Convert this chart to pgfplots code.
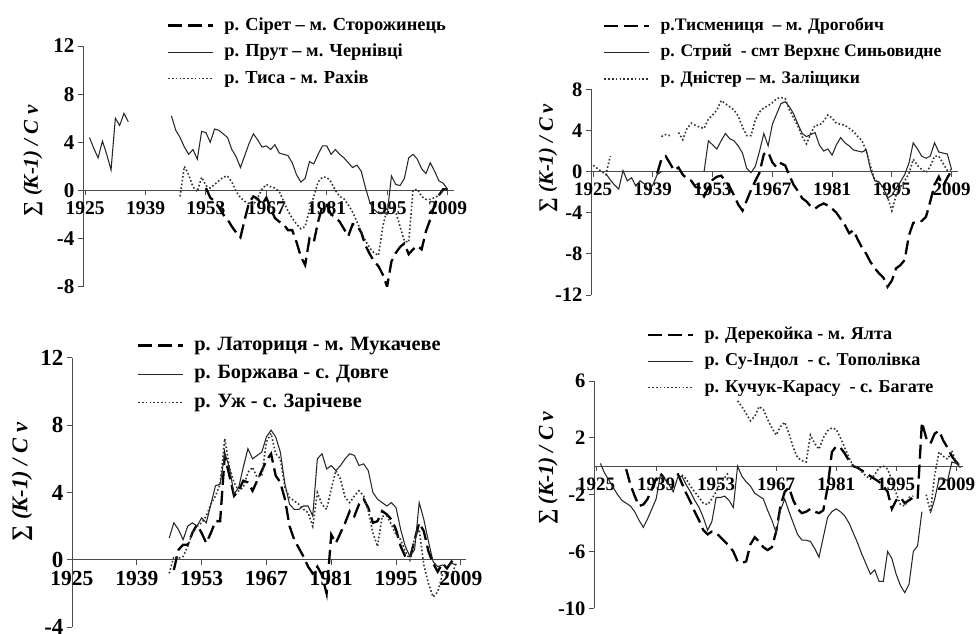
\documentclass[border=0pt]{standalone}
\usepackage{fontspec}
\setmainfont{Liberation Serif}
\usepackage{pgfplots}
\pgfplotsset{compat=1.18}
\pgfplotsset{
  legend image code/.code={\draw[#1] (0pt,0pt) -- (45pt,0pt);},
  panel/.style={
    scale only axis,
    anchor=south west,
    axis x line=middle, axis y line=left,
    axis line style={-, draw=black!70, line width=0.9pt},
    tick style={draw=black!70, line width=0.9pt},
    tick align=outside,
    major tick length=5pt,
    hide obscured x ticks=false,
    xtick={1925,1939,1953,1967,1981,1995,2009},
    xticklabels={1925,1939,1953,1967,1981,1995,2009},
    unbounded coords=jump,
    legend cell align=left,
    legend style={draw=none, fill=none, inner sep=0pt, anchor=north west,
      row sep=9.5pt,
      nodes={inner sep=0pt, text height=13pt, text depth=4pt},
      /tikz/every odd column/.append style={column sep=10pt}},
  },
  fnt/.style n args={4}{
    xticklabel style={font=\fontsize{#1}{#1}\selectfont\bfseries, yshift=-3pt},
    yticklabel style={font=\fontsize{#2}{#2}\selectfont\bfseries},
    legend style={font=\fontsize{#3}{#3}\selectfont\bfseries},
    every axis y label/.append style={font=\fontsize{#4}{#4}\selectfont\bfseries}},
  ylab/.style 2 args={every axis y label/.style={at={(axis description cs:#1,#2)}, rotate=90, anchor=center},
    ylabel={∑ \textit{(K-1) / C v}}},
  dsh/.style={black, line width=2.3pt, dash pattern=on 14pt off 6pt},
  sol/.style={black!85, line width=1.05pt},
  dtt/.style={black!80, line width=1.6pt, dash pattern=on 1.6pt off 2.2pt},
}
\begin{document}
\begin{tikzpicture}
\useasboundingbox (0,0) rectangle (977pt,633pt);
% ---------------- panel 1
\begin{axis}[panel, at={(83pt,346.3pt)}, width=371pt, height=240.7pt,
  xmin=1924.5, xmax=2010.5, ymin=-8, ymax=12, ytick={-8,-4,0,4,8,12},
  yticklabels={-8,-4,0,4,8,12}, ylab={-0.135}{0.523}, fnt={19.5}{21}{18.4}{21},
  legend style={at={(axis description cs:0.226,1.121)}}]
\addplot[dsh] coordinates {(1953,0.2)(1954,-0.6)(1955,-0.9)(1956,-1.4)(1957,-2.0)(1958,-2.4)(1959,-3.0)(1960,-3.5)(1961,-3.9)(1962,-2.4)(1963,-1.0)(1964,-0.5)(1965,-0.7)(1966,-1.2)(1967,-0.6)(1968,-1.5)(1969,-2.3)(1970,-2.6)(1971,-2.8)(1972,-3.3)(1973,-3.3)(1974,-4.3)(1975,-5.5)(1976,-6.2)(1977,-4.0)(1978,-4.3)(1979,-2.6)(1980,-1.3)(1981,-1.2)(1982,-2.0)(1983,-2.2)(1984,-2.6)(1985,-3.2)(1986,-3.8)(1987,-2.8)(1988,-2.9)(1989,-3.5)(1990,-4.6)(1991,-5.3)(1992,-5.9)(1993,-6.3)(1994,-7.0)(1995,-8.0)(1996,-5.9)(1997,-5.2)(1998,-4.7)(1999,-4.4)(2000,-5.3)(2001,-4.9)(2002,-4.6)(2003,-4.9)(2004,-3.4)(2005,-2.4)(2006,-1.2)(2007,-0.4)(2008,0.1)(2009,0.1)};
\addlegendentry{р. Сірет – м. Сторожинець}
\addplot[sol] coordinates {(1926,4.4)(1927,3.5)(1928,2.7)(1929,4.1)(1930,3.0)(1931,1.7)(1932,6.0)(1933,5.4)(1934,6.4)(1935,5.7)(1936,nan)(1945,6.2)(1946,5.0)(1947,4.4)(1948,3.6)(1949,3.0)(1950,3.4)(1951,2.6)(1952,4.9)(1953,4.8)(1954,4.0)(1955,5.1)(1956,5.0)(1957,4.7)(1958,4.4)(1959,3.4)(1960,2.8)(1961,1.9)(1962,2.9)(1963,3.9)(1964,4.7)(1965,4.2)(1966,3.6)(1967,3.7)(1968,3.4)(1969,3.8)(1970,3.1)(1971,3.0)(1972,2.9)(1973,2.3)(1974,1.3)(1975,0.7)(1976,1.0)(1977,2.4)(1978,2.2)(1979,3.0)(1980,3.7)(1981,3.7)(1982,3.0)(1983,3.4)(1984,3.0)(1985,2.7)(1986,2.3)(1987,1.9)(1988,2.1)(1989,1.6)(1990,0.2)(1991,-1.0)(1992,-1.6)(1993,-1.9)(1994,-1.8)(1995,-2.0)(1996,1.2)(1997,0.5)(1998,0.4)(1999,1.0)(2000,2.7)(2001,3.0)(2002,2.6)(2003,1.8)(2004,1.4)(2005,2.3)(2006,1.6)(2007,0.8)(2008,0.6)(2009,0.1)};
\addlegendentry{р. Прут – м. Чернівці}
\addplot[dtt] coordinates {(1947,-0.5)(1948,2.0)(1949,1.3)(1950,0.3)(1951,-0.1)(1952,1.1)(1953,0.4)(1954,0.2)(1955,0.5)(1956,0.8)(1957,1.1)(1958,1.2)(1959,0.7)(1960,-0.1)(1961,-0.6)(1962,-0.9)(1963,-1.1)(1964,-1.2)(1965,-0.6)(1966,0.1)(1967,0.5)(1968,0.3)(1969,0.2)(1970,-0.1)(1971,-0.9)(1972,-1.7)(1973,-2.3)(1974,-2.8)(1975,-3.2)(1976,-3.0)(1977,-1.6)(1978,-0.5)(1979,0.7)(1980,1.1)(1981,1.1)(1982,0.7)(1983,0.0)(1984,-0.5)(1985,-0.7)(1986,-1.2)(1987,-1.8)(1988,-2.6)(1989,-3.4)(1990,-4.2)(1991,-4.8)(1992,-5.2)(1993,-5.4)(1994,-3.0)(1995,-1.5)(1996,-1.3)(1997,-1.8)(1998,-3.0)(1999,-4.2)(2000,-4.3)(2001,0.0)(2002,0.1)(2003,-0.5)(2004,-0.75)(2005,-0.75)(2006,-0.6)(2007,-0.4)(2008,0.0)(2009,0.1)};
\addlegendentry{р. Тиса - м. Рахів}
\end{axis}
% ---------------- panel 2
\begin{axis}[panel, at={(591pt,338pt)}, width=367pt, height=205.7pt,
  xmin=1924.5, xmax=2010.5, ymin=-12, ymax=8, ytick={-12,-8,-4,0,4,8},
  yticklabels={-12,-8,-4,0,4,8}, ylab={-0.117}{0.666}, fnt={19}{20.5}{17.6}{20.5},
  legend style={at={(axis description cs:0.033,1.351)}}]
\addplot[dsh] coordinates {(1940,-0.2)(1941,1.2)(1942,1.5)(1943,0.8)(1944,0.1)(1945,0.4)(1946,-0.3)(1947,-0.7)(1948,-0.9)(1949,-1.5)(1950,-1.6)(1951,-2.4)(1952,-1.6)(1953,-0.8)(1954,-0.5)(1955,-0.4)(1956,-0.9)(1957,-1.5)(1958,-2.3)(1959,-3.2)(1960,-3.8)(1961,-2.8)(1962,-1.8)(1963,-0.9)(1964,-0.1)(1965,1.7)(1966,1.9)(1967,0.9)(1968,0.4)(1969,0.8)(1970,0.6)(1971,-0.4)(1972,-1.3)(1973,-1.9)(1974,-2.6)(1975,-2.9)(1976,-3.4)(1977,-3.6)(1978,-3.3)(1979,-3.1)(1980,-3.3)(1981,-3.6)(1982,-4.0)(1983,-4.6)(1984,-5.2)(1985,-6.0)(1986,-5.7)(1987,-6.6)(1988,-7.4)(1989,-8.0)(1990,-8.8)(1991,-9.4)(1992,-9.9)(1993,-10.3)(1994,-11.2)(1995,-10.6)(1996,-9.4)(1997,-9.1)(1998,-8.6)(1999,-6.2)(2000,-5.0)(2001,-4.8)(2002,-4.8)(2003,-4.4)(2004,-2.9)(2005,-1.3)(2006,-0.5)(2007,-1.4)(2008,-0.6)(2009,0.1)};
\addlegendentry{р.Тисмениця \ – м. Дрогобич}
\addplot[sol] coordinates {(1928,-0.2)(1929,-0.8)(1930,-1.3)(1931,-1.7)(1932,0.1)(1933,-0.9)(1934,-0.6)(1935,-1.4)(1936,-0.9)(1937,-1.2)(1938,-1.8)(1939,-1.3)(1940,-0.3)(1941,0.0)(1942,nan)(1951,0.0)(1952,3.0)(1953,2.6)(1954,2.2)(1955,3.0)(1956,3.7)(1957,3.2)(1958,3.0)(1959,2.5)(1960,1.8)(1961,0.3)(1962,-0.1)(1963,0.5)(1964,2.0)(1965,3.7)(1966,2.5)(1967,4.6)(1968,5.6)(1969,6.6)(1970,6.8)(1971,6.3)(1972,5.6)(1973,4.6)(1974,3.7)(1975,3.4)(1976,3.6)(1977,3.8)(1978,2.6)(1979,2.0)(1980,2.2)(1981,1.6)(1982,2.6)(1983,3.3)(1984,2.8)(1985,2.5)(1986,2.1)(1987,2.0)(1988,1.9)(1989,2.1)(1990,0.2)(1991,-0.9)(1992,-1.0)(1993,-1.6)(1994,-2.6)(1995,-2.3)(1996,-1.6)(1997,-1.0)(1998,-0.3)(1999,0.8)(2000,2.8)(2001,2.2)(2002,1.5)(2003,1.3)(2004,1.5)(2005,2.8)(2006,1.9)(2007,1.8)(2008,1.7)(2009,0.2)};
\addlegendentry{р. Стрий \ - смт Верхнє Синьовидне}
\addplot[dtt] coordinates {(1925,0.6)(1926,0.3)(1927,0.0)(1928,-0.3)(1929,1.5)(1930,nan)(1941,3.4)(1942,3.6)(1943,3.5)(1944,nan)(1945,3.8)(1946,3.1)(1947,4.2)(1948,4.7)(1949,4.5)(1950,4.3)(1951,4.2)(1952,5.1)(1953,5.5)(1954,6.0)(1955,6.9)(1956,6.6)(1957,6.3)(1958,6.0)(1959,5.4)(1960,4.3)(1961,3.5)(1962,3.5)(1963,5.0)(1964,5.8)(1965,6.2)(1966,6.4)(1967,6.7)(1968,7.1)(1969,7.2)(1970,7.1)(1971,6.0)(1972,5.2)(1973,4.4)(1974,3.4)(1975,2.7)(1976,3.7)(1977,4.5)(1978,4.5)(1979,4.9)(1980,5.5)(1981,5.2)(1982,4.7)(1983,4.6)(1984,4.5)(1985,4.2)(1986,3.9)(1987,3.4)(1988,3.0)(1989,2.0)(1990,0.5)(1991,-0.8)(1992,-1.1)(1993,-1.6)(1994,-2.5)(1995,-3.8)(1996,-2.3)(1997,-1.5)(1998,-0.9)(1999,-0.2)(2000,1.2)(2001,0.6)(2002,0.2)(2003,-0.1)(2004,0.5)(2005,1.5)(2006,1.5)(2007,0.8)(2008,0.1)(2009,0.2)};
\addlegendentry{р. Дністер – м. Заліщики}
\end{axis}
% ---------------- panel 3
\begin{axis}[panel, at={(72pt,5.7pt)}, width=393.5pt, height=269.6pt,
  xmin=1925, xmax=2010, ymin=-4, ymax=12, ytick={-4,0,4,8,12},
  yticklabels={-4,0,4,8,12}, ylab={-0.127}{0.539}, fnt={21.5}{23}{20.3}{22.5},
  legend style={at={(axis description cs:0.165,1.077)}, row sep=11.5pt}]
\addplot[dsh] coordinates {(1947,-0.6)(1948,0.6)(1949,0.9)(1950,0.9)(1951,1.6)(1952,2.1)(1953,1.6)(1954,1.0)(1955,1.6)(1956,2.3)(1957,2.3)(1958,6.2)(1959,5.0)(1960,3.8)(1961,4.1)(1962,4.7)(1963,4.6)(1964,4.1)(1965,4.7)(1966,5.3)(1967,5.9)(1968,6.3)(1969,5.0)(1970,4.6)(1971,3.6)(1972,2.0)(1973,1.2)(1974,0.7)(1975,0.2)(1976,-0.4)(1977,-0.8)(1978,-0.4)(1979,-0.9)(1980,-2.0)(1981,1.5)(1982,1.0)(1983,1.6)(1984,2.2)(1985,2.9)(1986,2.6)(1987,3.3)(1988,3.6)(1989,3.1)(1990,2.2)(1991,2.3)(1992,2.9)(1993,2.7)(1994,2.4)(1995,1.8)(1996,0.8)(1997,0.2)(1998,0.1)(1999,1.2)(2000,2.2)(2001,1.7)(2002,0.5)(2003,-0.2)(2004,-0.7)(2005,-0.2)(2006,-0.5)(2007,-0.1)(2008,-0.3)};
\addlegendentry{р. Латориця - м. Мукачеве}
\addplot[sol] coordinates {(1946,1.3)(1947,2.2)(1948,1.8)(1949,1.2)(1950,2.0)(1951,2.2)(1952,2.0)(1953,2.5)(1954,2.2)(1955,3.3)(1956,4.4)(1957,4.5)(1958,6.3)(1959,5.5)(1960,3.9)(1961,4.3)(1962,5.5)(1963,6.6)(1964,6.0)(1965,6.2)(1966,6.4)(1967,7.3)(1968,7.7)(1969,7.3)(1970,6.4)(1971,4.5)(1972,3.3)(1973,3.0)(1974,3.0)(1975,3.2)(1976,3.2)(1977,2.6)(1978,6.0)(1979,6.3)(1980,5.4)(1981,5.6)(1982,5.3)(1983,5.6)(1984,6.0)(1985,6.3)(1986,6.2)(1987,5.6)(1988,5.7)(1989,5.3)(1990,4.0)(1991,3.6)(1992,3.4)(1993,3.2)(1994,3.4)(1995,3.1)(1996,1.8)(1997,0.8)(1998,0.2)(1999,0.6)(2000,3.4)(2001,2.4)(2002,1.1)(2003,-0.1)(2004,-0.4)(2005,-0.3)(2006,-0.4)(2007,-0.2)(2008,-0.3)};
\addlegendentry{р. Боржава - с. Довге}
\addplot[dtt] coordinates {(1946,-0.8)(1947,0.2)(1948,0.1)(1949,0.2)(1950,0.8)(1951,1.6)(1952,2.0)(1953,2.2)(1954,2.6)(1955,3.3)(1956,3.8)(1957,4.5)(1958,7.2)(1959,5.5)(1960,4.6)(1961,4.1)(1962,4.3)(1963,5.2)(1964,5.5)(1965,4.9)(1966,5.0)(1967,7.0)(1968,7.5)(1969,6.3)(1970,6.0)(1971,4.3)(1972,3.7)(1973,3.5)(1974,3.3)(1975,3.0)(1976,2.8)(1977,2.0)(1978,4.0)(1979,3.3)(1980,3.0)(1981,4.2)(1982,5.3)(1983,4.8)(1984,3.7)(1985,3.4)(1986,3.8)(1987,4.1)(1988,3.8)(1989,2.9)(1990,1.6)(1991,0.8)(1992,2.6)(1993,2.6)(1994,2.1)(1995,1.5)(1996,1.2)(1997,0.5)(1998,0.0)(1999,1.3)(2000,1.8)(2001,-0.3)(2002,-1.4)(2003,-2.2)(2004,-1.9)(2005,-0.9)(2006,-0.7)(2007,-0.9)(2008,-0.2)};
\addlegendentry{р. Уж - с. Зарічеве}
\end{axis}
% ---------------- panel 4
\begin{axis}[panel, at={(594pt,24.7pt)}, width=368.6pt, height=227.3pt,
  xmin=1924.5, xmax=2010.5, ymin=-10, ymax=6, ytick={-10,-6,-2,2,6},
  yticklabels={-10,-6,-2,2,6}, ylab={-0.125}{0.617}, fnt={19}{20.5}{18.1}{21.5},
  legend style={at={(axis description cs:0.144,1.242)}}]
\addplot[dsh] coordinates {(1932,-0.2)(1933,-1.3)(1934,-2.1)(1935,-2.8)(1936,-2.7)(1937,-2.3)(1938,-1.6)(1939,-0.9)(1940,-0.5)(1941,-0.9)(1942,nan)(1944,-0.5)(1945,-1.2)(1946,-1.9)(1947,-2.5)(1948,-3.2)(1949,-3.8)(1950,-4.5)(1951,-4.8)(1952,-4.6)(1953,-4.7)(1954,-5.0)(1955,-5.3)(1956,-5.6)(1957,-6.0)(1958,-6.7)(1959,-6.8)(1960,-6.7)(1961,-5.5)(1962,-5.0)(1963,-5.3)(1964,-5.7)(1965,-5.9)(1966,-5.7)(1967,-4.6)(1968,-2.8)(1969,-1.8)(1970,-1.5)(1971,-2.4)(1972,-3.0)(1973,-3.3)(1974,-3.2)(1975,-3.0)(1976,-3.2)(1977,-3.3)(1978,-3.1)(1979,-1.5)(1980,1.0)(1981,1.4)(1982,1.3)(1983,0.9)(1984,0.4)(1985,0.0)(1986,-0.1)(1987,-0.3)(1988,-0.5)(1989,-0.7)(1990,-0.9)(1991,-1.1)(1992,-1.4)(1993,-1.8)(1994,-3.0)(1995,-2.4)(1996,-2.2)(1997,-2.6)(1998,-2.4)(1999,-2.2)(2000,-2.3)(2001,3.1)(2002,2.0)(2003,1.6)(2004,2.3)(2005,2.5)(2006,1.8)(2007,1.3)(2008,0.7)(2009,0.3)(2010,0.0)};
\addlegendentry{р. Дерекойка - м. Ялта}
\addplot[sol] coordinates {(1926,0.2)(1927,-0.5)(1928,-1.0)(1929,-1.5)(1930,-2.0)(1931,-2.4)(1932,-2.6)(1933,-2.8)(1934,-3.2)(1935,-3.8)(1936,-4.3)(1937,-3.7)(1938,-3.0)(1939,-2.3)(1940,-0.6)(1941,-0.9)(1942,-1.3)(1943,-1.8)(1944,-0.8)(1945,-0.7)(1946,-1.3)(1947,-1.8)(1948,-2.4)(1949,-2.9)(1950,-3.6)(1951,-4.5)(1952,-3.9)(1953,-2.2)(1954,-2.2)(1955,-2.1)(1956,-2.4)(1957,-2.9)(1958,0.0)(1959,-0.7)(1960,-1.1)(1961,-1.4)(1962,-1.9)(1963,-2.1)(1964,-2.3)(1965,-3.1)(1966,-3.8)(1967,-4.7)(1968,-3.1)(1969,-2.3)(1970,-3.2)(1971,-4.0)(1972,-4.8)(1973,-5.2)(1974,-5.2)(1975,-5.3)(1976,-5.8)(1977,-6.4)(1978,-5.0)(1979,-3.6)(1980,-3.2)(1981,-3.0)(1982,-3.2)(1983,-3.5)(1984,-4.0)(1985,-4.7)(1986,-5.4)(1987,-6.2)(1988,-6.9)(1989,-7.6)(1990,-7.3)(1991,-8.1)(1992,-8.1)(1993,-6.0)(1994,-6.5)(1995,-7.6)(1996,-8.4)(1997,-8.9)(1998,-8.3)(1999,-6.0)(2000,-5.6)(2001,-3.2)(2002,nan)(2003,-3.3)(2004,-2.3)(2005,-0.9)(2006,-0.9)(2007,-1.0)(2008,0.3)(2009,0.2)(2010,-0.1)};
\addlegendentry{р. Су-Індол \ - с. Тополівка}
\addplot[dtt] coordinates {(1945,-0.6)(1946,-0.9)(1947,-1.4)(1948,-1.8)(1949,-2.2)(1950,-2.6)(1951,-2.7)(1952,-2.3)(1953,-1.8)(1954,-1.2)(1955,-0.8)(1956,-0.4)(1957,nan)(1958,4.6)(1959,4.2)(1960,3.7)(1961,3.2)(1962,3.5)(1963,4.2)(1964,4.0)(1965,3.3)(1966,2.7)(1967,2.2)(1968,2.8)(1969,3.1)(1970,2.3)(1971,1.3)(1972,0.6)(1973,0.4)(1974,0.3)(1975,2.2)(1976,1.6)(1977,1.2)(1978,2.0)(1979,2.5)(1980,2.7)(1981,2.6)(1982,2.0)(1983,1.3)(1984,0.6)(1985,0.0)(1986,-0.1)(1987,-0.4)(1988,-0.7)(1989,-0.9)(1990,-0.6)(1991,-0.1)(1992,0.0)(1993,-0.2)(1994,-1.0)(1995,-1.9)(1996,-2.7)(1997,-2.8)(1998,-2.2)(1999,-2.1)(2000,nan)(2002,-2.0)(2003,-3.2)(2004,-0.6)(2005,1.0)(2006,0.7)(2007,0.5)(2008,1.1)(2009,0.2)(2010,0.1)};
\addlegendentry{р. Кучук-Карасу \ - с. Багате}
\end{axis}
\end{tikzpicture}
\end{document}
